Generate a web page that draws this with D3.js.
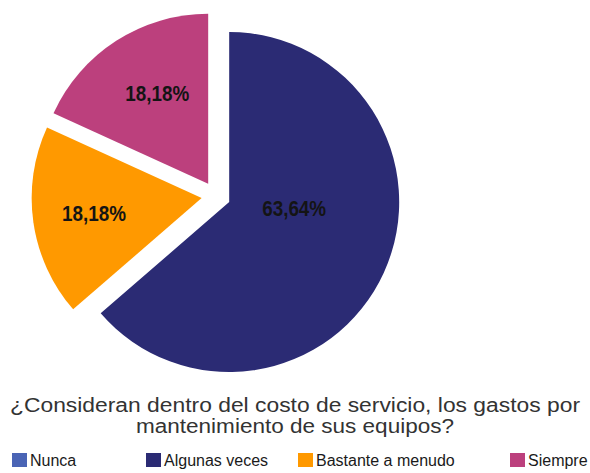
<!DOCTYPE html>
<html>
<head>
<meta charset="utf-8">
<script src="https://cdn.jsdelivr.net/npm/d3@7"></script>
<style>
  html, body { margin: 0; padding: 0; background: #fff; }
  svg { display: block; }
</style>
</head>
<body>
<svg id="chart" width="590" height="473"></svg>
<script>
// Survey answers and their shares (percent).
const categories = ["Nunca", "Algunas veces", "Bastante a menudo", "Siempre"];
const shares = [0, 63.64, 18.18, 18.18];
const shareLabels = ["", "63,64%", "18,18%", "18,18%"];
const colors = ["#4a64b5", "#2b2b74", "#ff9900", "#bc407d"];
const titleLines = [
  "¿Consideran dentro del costo de servicio, los gastos por",
  "mantenimiento de sus equipos?"
];

// Layout only (Excel-ish placement of the legend, title widths, label tweaks).
const legendX = [12, 146, 298, 510];
const titleWidths = [570, 318];
const labelNudge = { "Algunas veces": [-34, -39], "Siempre": [8, 1] };

(function () {
  const svg = d3.select("#chart");
  const cx = 216, cy = 196, r = 170, explode = 14.5;

  const pie = d3.pie().sort(null).value((d) => d.v);
  const slices = pie(categories.map((c, i) => ({ c, v: shares[i], label: shareLabels[i], color: colors[i] })));

  const arc = d3.arc().innerRadius(0).outerRadius(r);
  const labelArc = d3.arc().innerRadius(r * 0.64).outerRadius(r * 0.64);

  // Every slice is pulled out a little along its mid angle.
  const shift = (d) => {
    const a = (d.startAngle + d.endAngle) / 2;
    return [Math.sin(a) * explode, -Math.cos(a) * explode];
  };

  const g = svg.append("g").attr("transform", `translate(${cx},${cy})`);

  const drawn = slices.filter((d) => d.value > 0);

  g.selectAll("path")
    .data(drawn)
    .join("path")
    .attr("d", arc)
    .attr("fill", (d) => d.data.color)
    .attr("transform", (d) => `translate(${shift(d)})`);

  g.selectAll("text.val")
    .data(drawn)
    .join("text")
    .attr("class", "val")
    .attr("transform", (d) => {
      const [sx, sy] = shift(d);
      const [lx, ly] = labelArc.centroid(d);
      const [nx, ny] = labelNudge[d.data.c] || [0, 0];
      return `translate(${sx + lx + nx},${sy + ly + ny})`;
    })
    .attr("text-anchor", "middle")
    .attr("dy", "0.36em")
    .attr("font-family", "Liberation Sans, Arial, sans-serif")
    .attr("font-weight", "bold")
    .attr("font-size", 22)
    .attr("fill", "#141414")
    .attr("textLength", 64)
    .attr("lengthAdjust", "spacingAndGlyphs")
    .text((d) => d.data.label);

  // Title under the pie, a touch wider than plain Arial.
  svg.append("g")
    .selectAll("text")
    .data(titleLines)
    .join("text")
    .attr("x", 295)
    .attr("y", (d, i) => 412 + i * 21)
    .attr("text-anchor", "middle")
    .attr("font-family", "Liberation Sans, Arial, sans-serif")
    .attr("font-size", 20)
    .attr("fill", "#333")
    .attr("textLength", (d, i) => titleWidths[i])
    .attr("lengthAdjust", "spacingAndGlyphs")
    .text((d) => d);

  // Legend row.
  const leg = svg.append("g")
    .selectAll("g")
    .data(categories)
    .join("g")
    .attr("transform", (d, i) => `translate(${legendX[i]},453)`);

  leg.append("rect")
    .attr("width", 15)
    .attr("height", 14)
    .attr("fill", (d, i) => colors[i]);

  leg.append("text")
    .attr("x", 18)
    .attr("y", 13)
    .attr("font-family", "Liberation Sans, Arial, sans-serif")
    .attr("font-size", 16)
    .attr("fill", "#1a1a1a")
    .text((d) => d);
})();
</script>
</body>
</html>
